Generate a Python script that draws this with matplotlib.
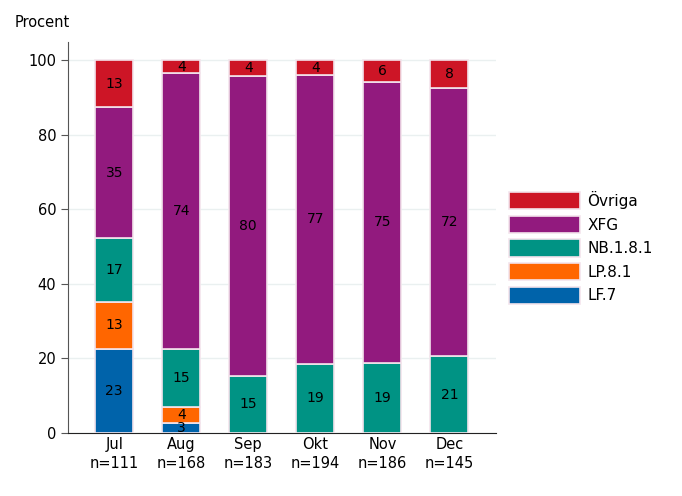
import numpy as np
import matplotlib.pyplot as plt

# monthly variant shares (percent of sequenced samples)
months = ['Jul', 'Aug', 'Sep', 'Okt', 'Nov', 'Dec']
n_samples = [111, 168, 183, 194, 186, 145]
lf7 = [22.6, 2.8, 0, 0, 0, 0]
lp81 = [12.6, 4.2, 0, 0, 0, 0]
nb181 = [17.1, 15.4, 15.4, 18.6, 18.8, 20.6]
xfg = [35.1, 74.1, 80.3, 77.3, 75.3, 71.9]
ovriga = [12.6, 3.5, 4.3, 4.1, 5.9, 7.5]

series = [('LF.7', lf7, '#0063aa'),
          ('LP.8.1', lp81, '#ff6600'),
          ('NB.1.8.1', nb181, '#009384'),
          ('XFG', xfg, '#921a7e'),
          ('Övriga', ovriga, '#cd1526')]

plt.rcParams['font.family'] = ['DejaVu Sans']

fig = plt.figure(figsize=(6.82, 4.96), dpi=100)
ax = fig.add_axes([0.0997, 0.127, 0.627, 0.788])

x = np.arange(len(months))
bottom = np.zeros(len(months))
handles = []
for name, vals, col in series:
    vals = np.array(vals, dtype=float)
    bars = ax.bar(x, vals, width=0.57, bottom=bottom, color=col,
                  edgecolor='#f3e4ec', linewidth=1.2, zorder=3, label=name)
    for xi, b, v in zip(x, bottom, vals):
        if v > 0:
            ax.text(xi, b + v / 2, f'{v:.0f}', ha='center', va='center',
                    fontsize=10, color='black', zorder=4)
    bottom += vals
    handles.append(bars)

ax.set_xlim(-0.69, 5.69)
ax.set_ylim(0, 104.8)
ax.set_yticks([0, 20, 40, 60, 80, 100])
ax.set_xticks(x)
ax.set_xticklabels([f'{m}\nn={n}' for m, n in zip(months, n_samples)],
                   fontsize=10.5, linespacing=1.3)
ax.tick_params(axis='x', length=0, pad=3)
ax.tick_params(axis='y', labelsize=10.5, length=5, color='#555555')
ax.grid(axis='y', color='#eaf0f0', linewidth=1, zorder=0)
for s in ['top', 'right']:
    ax.spines[s].set_visible(False)
ax.spines['left'].set_color('#555555')
ax.spines['bottom'].set_color('#222222')

fig.text(0.022, 0.955, 'Procent', fontsize=10.5, ha='left', va='center')

leg = ax.legend(handles[::-1], [s[0] for s in series][::-1],
                loc='center left', bbox_to_anchor=(1.0, 0.475),
                frameon=False, fontsize=11, handlelength=4.6,
                handleheight=1.35, labelspacing=0.42, handletextpad=0.5)

fig.savefig('out.png', dpi=100)
